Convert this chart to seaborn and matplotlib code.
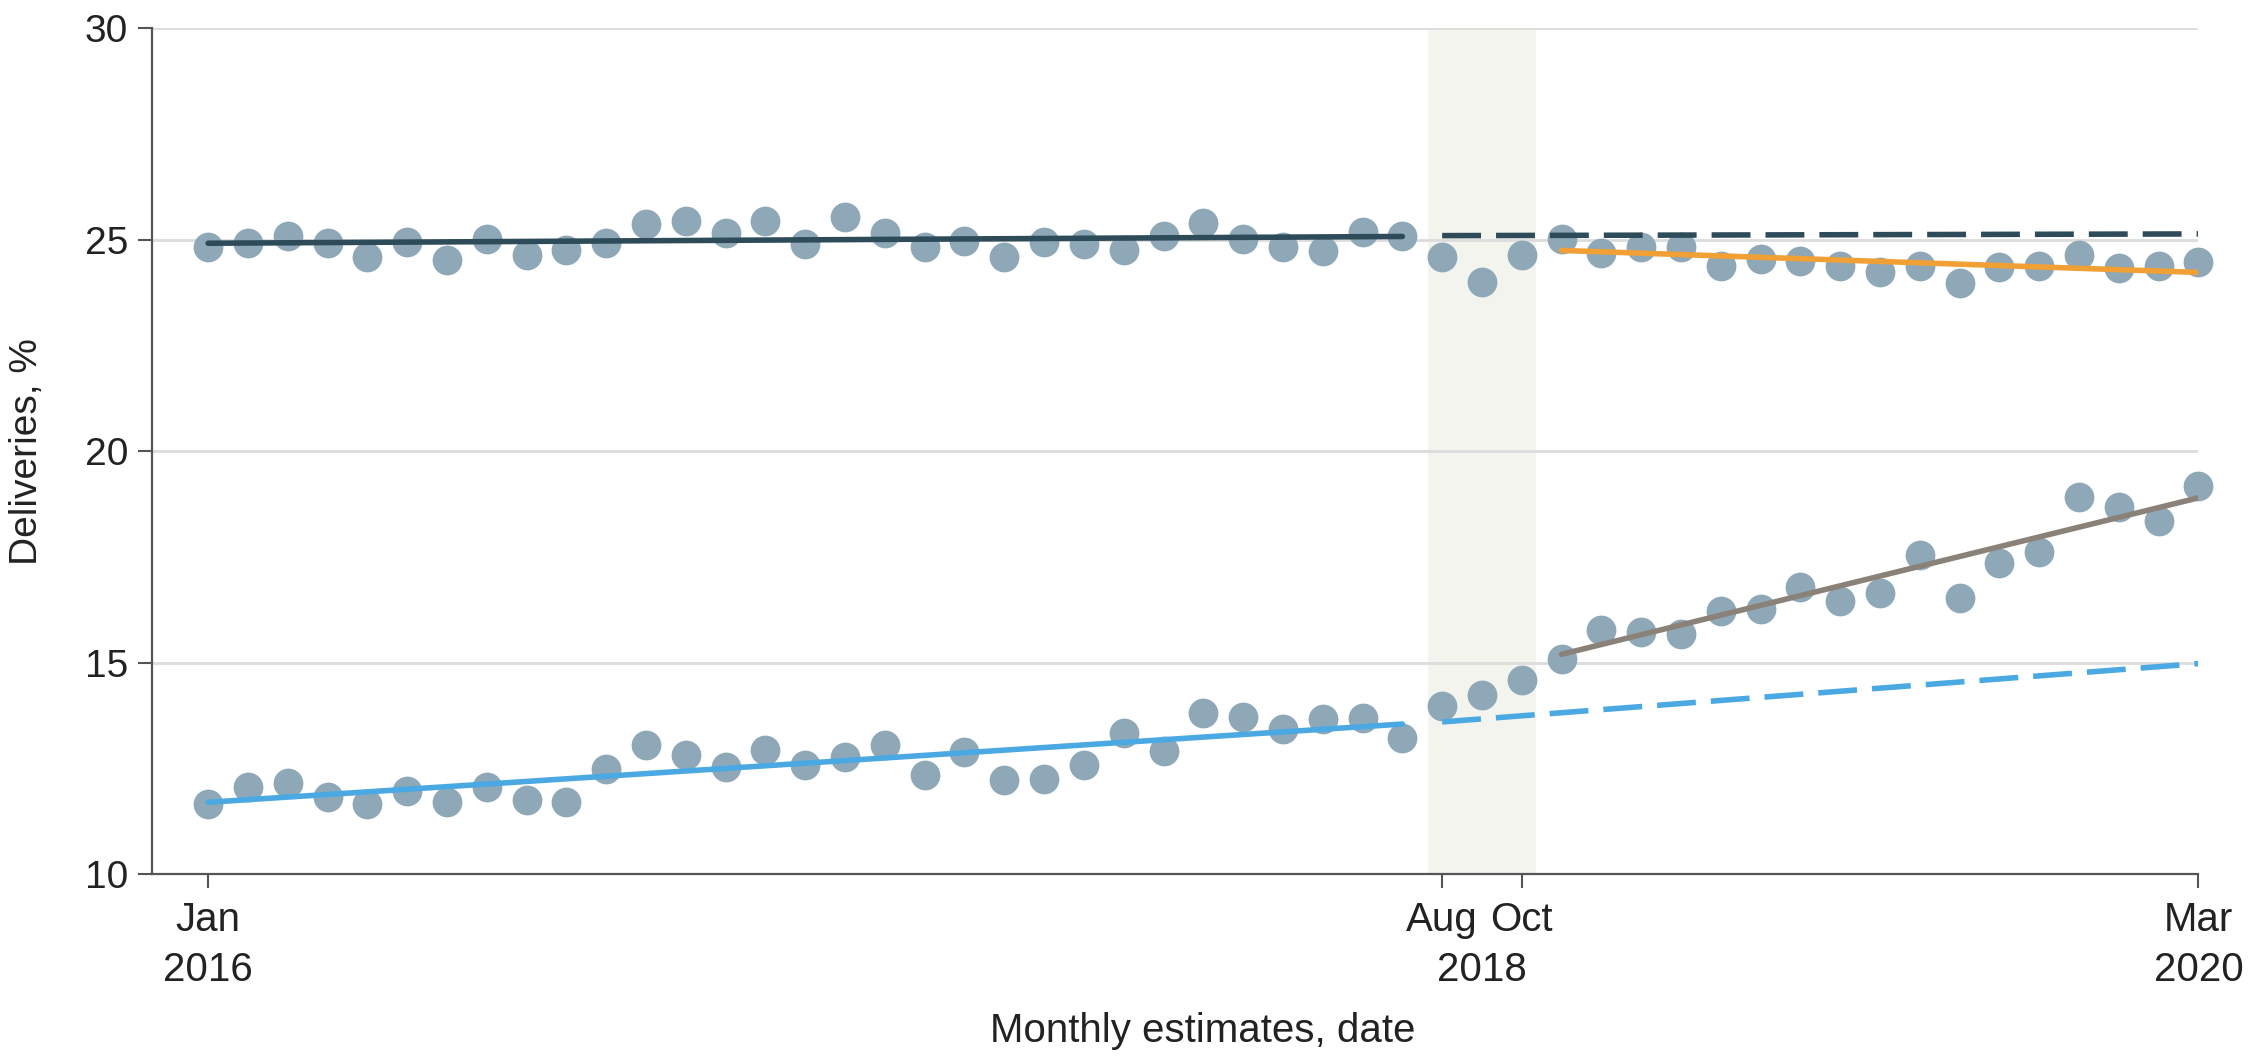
import numpy as np
import pandas as pd
import seaborn as sns
import matplotlib.pyplot as plt

# monthly index: 0 = Jan 2016 ... 50 = Mar 2020
months = list(range(51))

top_values = [24.84, 24.93, 25.10, 24.92, 24.60, 24.96, 24.53, 25.02, 24.63, 24.75,
              24.92, 25.38, 25.44, 25.17, 25.44, 24.90, 25.53, 25.16, 24.83, 24.97,
              24.59, 24.94, 24.90, 24.77, 25.10, 25.40, 25.02, 24.83, 24.73, 25.18,
              25.08, 24.60, 24.00, 24.65, 25.02, 24.70, 24.83, 24.84, 24.37, 24.55,
              24.50, 24.39, 24.23, 24.37, 23.98, 24.35, 24.39, 24.65, 24.33, 24.37,
              24.47]

bottom_values = [11.66, 12.05, 12.15, 11.82, 11.66, 11.97, 11.71, 12.05, 11.76, 11.70,
                 12.48, 13.06, 12.81, 12.54, 12.93, 12.58, 12.78, 13.06, 12.34, 12.90,
                 12.23, 12.25, 12.58, 13.35, 12.92, 13.80, 13.72, 13.43, 13.66, 13.69,
                 13.23, 13.98, 14.23, 14.58, 15.10, 15.77, 15.72, 15.68, 16.22, 16.27,
                 16.80, 16.47, 16.65, 17.54, 16.52, 17.36, 17.62, 18.91, 18.69, 18.34,
                 19.17]

# fitted trend segments (start/end)
trend_segment = ["top_pre", "top_pre", "top_cf", "top_cf", "top_post", "top_post",
                 "bot_pre", "bot_pre", "bot_cf", "bot_cf", "bot_post", "bot_post"]
trend_month = [0, 30, 31, 50, 34, 50, 0, 30, 31, 50, 34, 50]
trend_value = [24.92, 25.08, 25.10, 25.14, 24.75, 24.23,
               11.70, 13.55, 13.60, 14.98, 15.20, 18.90]

tick_pos = [0, 31, 33, 50]
tick_labels = ["Jan\n2016", "Aug", "Oct", "Mar\n2020"]

point_color = "#8ea8b8"
seg_colors = {"top_pre": "#2e4b5a", "top_cf": "#2e4b5a", "top_post": "#f0a034",
              "bot_pre": "#4aa8e2", "bot_cf": "#4aa8e2", "bot_post": "#8a8278"}
seg_dashes = {"top_pre": "", "top_cf": (7, 2.7), "top_post": "",
              "bot_pre": "", "bot_cf": (7, 2.7), "bot_post": ""}

sns.set_theme(style="white")
plt.rcParams["font.family"] = ["DejaVu Sans"]
narrow = ["Liberation Sans", "DejaVu Sans"]

points = pd.DataFrame({
    "month": months * 2,
    "value": top_values + bottom_values,
})
trends = pd.DataFrame({"segment": trend_segment, "month": trend_month, "value": trend_value})

fig = plt.figure(figsize=(22.53, 10.60), dpi=100)
ax = fig.add_axes([0.0673, 0.1753, 0.9085, 0.7979])

ax.axvspan(30.65, 33.35, color="#f4f4ef", zorder=0, lw=0)
ax.set_axisbelow(True)
ax.yaxis.grid(True, color="#dcdcdc", lw=2)

sns.scatterplot(data=points, x="month", y="value", color=point_color, s=460,
                linewidth=0, ax=ax, zorder=3, clip_on=False)
sns.lineplot(data=trends, x="month", y="value", hue="segment", style="segment",
             palette=seg_colors, dashes=seg_dashes, sort=False, estimator=None,
             units="segment", linewidth=4, legend=False, ax=ax, zorder=4)

ax.set_xlim(-1.42, 50)
ax.set_ylim(10, 30)
ax.set_yticks([10, 15, 20, 25, 30])
ax.set_xticks(tick_pos, labels=tick_labels)
# shared year under Aug / Oct
ax.set_xticks([32], labels=["2018"], minor=True)

for lab in ax.get_xticklabels(which="both"):
    lab.set_family(narrow)
    lab.set_fontsize(29)
    lab.set_linespacing(1.4)
    lab.set_color("#222222")
for lab in ax.get_yticklabels():
    lab.set_family(narrow)
    lab.set_fontsize(28)
    lab.set_color("#222222")

ax.tick_params(axis="both", which="major", length=10, width=1.5, color="#555555",
               direction="out", left=True, bottom=True, pad=9)
ax.tick_params(axis="y", which="major", pad=7)
ax.tick_params(axis="x", which="minor", length=0, pad=55)

for side in ["top", "right"]:
    ax.spines[side].set_visible(False)
for side in ["left", "bottom"]:
    ax.spines[side].set_color("#555555")
    ax.spines[side].set_linewidth(1.6)

ax.set_xlabel("Monthly estimates, date", family=narrow, fontsize=29, color="#222222")
ax.set_ylabel("Deliveries, %", family=narrow, fontsize=28, color="#222222")
ax.xaxis.set_label_coords(0.5136, -0.163)
ax.yaxis.set_label_coords(-0.052, 0.5)

fig.savefig("out.png", dpi=100)
